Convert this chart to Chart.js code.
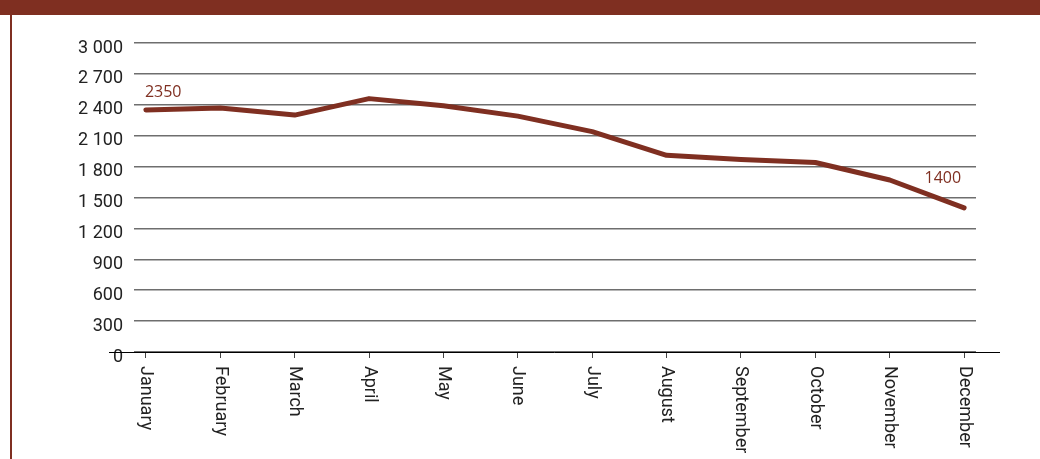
<!DOCTYPE html>
<html>
<head>
<meta charset="utf-8">
<script src="https://cdn.jsdelivr.net/npm/chart.js@4"></script>
<style>
  html, body { margin: 0; padding: 0; background: #fff; }
  #wrap { position: relative; width: 1040px; height: 459px; overflow: hidden; }
  #band { position: absolute; left: 0; top: 0; width: 1040px; height: 15px; background: #7f2f21; }
  #edge { position: absolute; left: 10px; top: 15px; width: 2px; height: 444px; background: #7f2f21; }
  canvas { position: absolute; left: 0; top: 0; }
</style>
</head>
<body>
<div id="wrap">
  <canvas id="chart" width="1040" height="459"></canvas>
  <div id="band"></div>
  <div id="edge"></div>
</div>
<script>
const months = ["January", "February", "March", "April", "May", "June",
                "July", "August", "September", "October", "November", "December"];
const values = [2350, 2370, 2300, 2460, 2390, 2290, 2140, 1910, 1870, 1840, 1670, 1400];
const labelled = [0, 11];
const yTicks = [0, 300, 600, 900, 1200, 1500, 1800, 2100, 2400, 2700, 3000];

const brown = "#7f2f21";

const spaced = (function(v) {
    return String(v).replace(/\B(?=(\d{3})+(?!\d))/g, " ");
});

// month names, read top to bottom under each tick
const monthLabels = {
    id: "monthLabels",
    afterDraw(chart) {
        let ctx = chart.ctx;
        let xs = chart.scales.x;
        ctx.save();
        ctx.fillStyle = "#222";
        ctx.font = "18px Roboto";
        ctx.textAlign = "left";
        ctx.textBaseline = "middle";
        months.forEach((m, i) => {
            ctx.save();
            ctx.translate(xs.getPixelForValue(i), chart.chartArea.bottom + 14);
            ctx.rotate(Math.PI / 2);
            ctx.fillText(m, 0, 0);
            ctx.restore();
        });
        ctx.restore();
    }
};

// the zero line runs a bit wider than the grid
const zeroLine = {
    id: "zeroLine",
    afterDatasetsDraw(chart) {
        let ctx = chart.ctx;
        let y = Math.round(chart.scales.y.getPixelForValue(0)) + 0.5;
        ctx.save();
        ctx.strokeStyle = "#000";
        ctx.lineWidth = 1;
        ctx.beginPath();
        ctx.moveTo(chart.chartArea.left - 25, y);
        ctx.lineTo(chart.chartArea.right + 24, y);
        ctx.stroke();
        ctx.restore();
    }
};

// first and last values written next to the line
const valueLabels = {
    id: "valueLabels",
    afterDatasetsDraw(chart) {
        let ctx = chart.ctx;
        let pts = chart.getDatasetMeta(0).data;
        ctx.save();
        ctx.fillStyle = brown;
        ctx.font = "16px 'Open Sans'";
        ctx.textBaseline = "middle";
        labelled.forEach(i => {
            let p = pts[i];
            if (i === 0) {
                ctx.textAlign = "left";
                ctx.fillText(String(values[i]), p.x - 1, p.y - 18);
            } else {
                ctx.textAlign = "right";
                ctx.fillText(String(values[i]), p.x - 3, p.y - 29);
            }
        });
        ctx.restore();
    }
};

let ctx = document.getElementById("chart").getContext("2d");

let data = {
    datasets: [{
        data: values.map((v, i) => ({x: i, y: v})),
        borderColor: brown,
        borderWidth: 5,
        borderCapStyle: "round",
        borderJoinStyle: "round",
        tension: 0,
        pointRadius: 0,
        fill: false
    }]
};

let options = {
    responsive: false,
    devicePixelRatio: 1,
    animation: false,
    layout: {
        padding: {top: 43, right: 64, bottom: 0, left: 0}
    },
    plugins: {
        legend: {display: false},
        tooltip: {enabled: false}
    },
    scales: {
        x: {
            type: "linear",
            min: -0.16,
            max: 11.16,
            afterBuildTicks: (s) => { s.ticks = months.map((m, i) => ({value: i})); },
            afterFit: (s) => { s.height = 107; },
            border: {display: false},
            grid: {
                drawOnChartArea: false,
                drawTicks: true,
                tickLength: 6,
                color: "#444",
                lineWidth: 1
            },
            ticks: {display: false}
        },
        y: {
            min: 0,
            max: 3000,
            afterBuildTicks: (s) => { s.ticks = yTicks.map(v => ({value: v})); },
            afterFit: (s) => { s.width = 134; },
            border: {display: false},
            grid: {
                drawTicks: false,
                color: "#6e6e6e",
                lineWidth: 1.5
            },
            ticks: {
                padding: 11,
                color: "#222",
                font: {family: "Roboto", size: 18, weight: "normal", lineHeight: "10px"},
                callback: (v) => ["", spaced(v)]
            }
        }
    }
};

new Chart(ctx, {
    type: "line",
    data: data,
    options: options,
    plugins: [zeroLine, valueLabels, monthLabels]
});
</script>
</body>
</html>
